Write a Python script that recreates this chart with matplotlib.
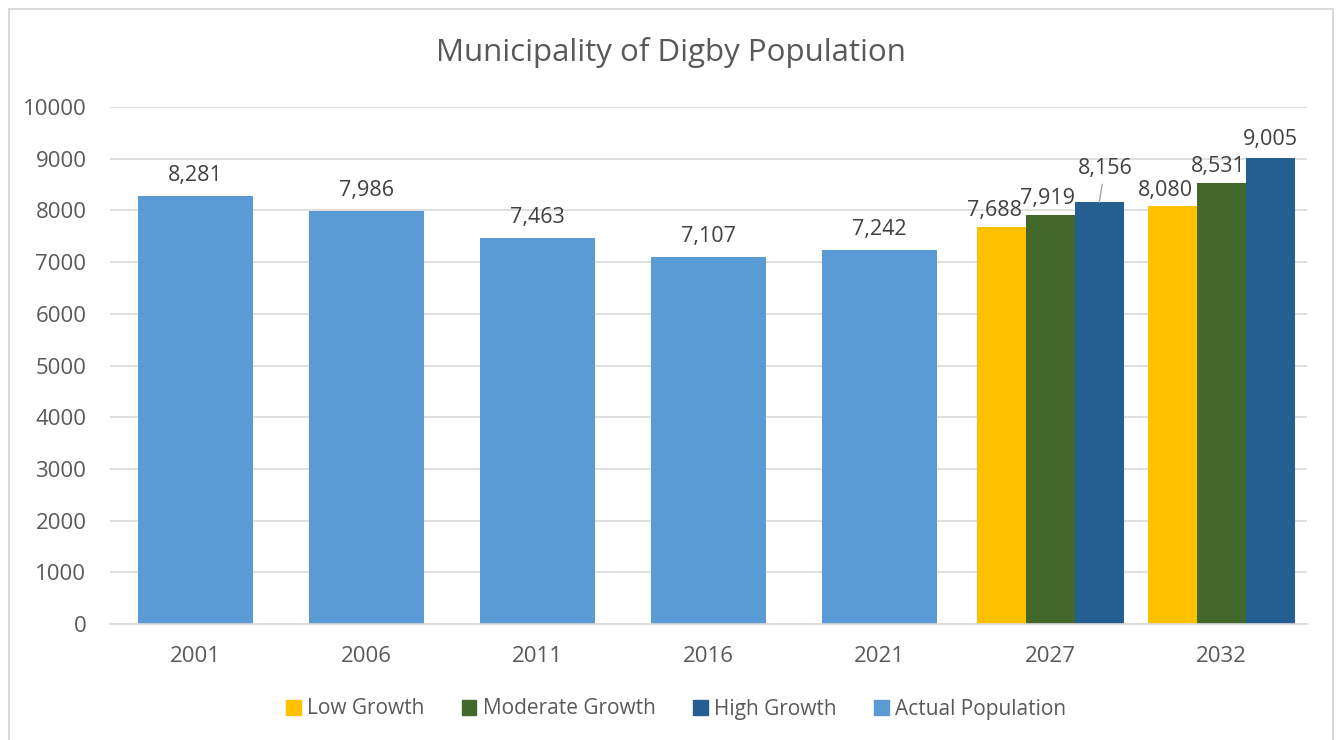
import matplotlib
matplotlib.use("Agg")
import matplotlib.pyplot as plt
from matplotlib.patches import Patch, Rectangle

years = ["2001", "2006", "2011", "2016", "2021", "2027", "2032"]
actual_years = ["2001", "2006", "2011", "2016", "2021"]
actual = [8281, 7986, 7463, 7107, 7242]
proj_years = ["2027", "2032"]
low = [7688, 8080]
moderate = [7919, 8531]
high = [8156, 9005]

c_actual = "#5B9BD5"
c_low = "#FFC000"
c_mod = "#43682B"
c_high = "#255E91"
txt = "#595959"
lbl = "#404040"

plt.rcParams["font.family"] = ["Open Sans", "DejaVu Sans"]

fig = plt.figure(figsize=(13.4, 7.4), dpi=100)
fig.patch.set_facecolor("white")
fig.add_artist(Rectangle((8.5 / 1340, -0.05), (1333 - 8.5) / 1340, 1.05 - 8.5 / 740,
                         transform=fig.transFigure, fill=False,
                         edgecolor="#D9D9D9", linewidth=1.5))

ax = fig.add_axes([110 / 1340, 1 - 624 / 740, (1307 - 110) / 1340, (624 - 107) / 740])
xpos = {y: i for i, y in enumerate(years)}

w_act = 0.667
ax.bar([xpos[y] for y in actual_years], actual, width=w_act, color=c_actual, zorder=2)

w = 0.285
px = [xpos[y] for y in proj_years]
ax.bar([p - w for p in px], low, width=w, color=c_low, zorder=2)
ax.bar(px, moderate, width=w, color=c_mod, zorder=2)
ax.bar([p + w for p in px], high, width=w, color=c_high, zorder=2)

fs_lbl = 15.5
for y, v in zip(actual_years, actual):
    ax.annotate(f"{v:,}", (xpos[y], v), xytext=(0, 7), textcoords="offset points",
                ha="center", va="bottom", fontsize=fs_lbl, color=lbl)

for i, p in enumerate(px):
    ax.annotate(f"{low[i]:,}", (p - w, low[i]), xytext=(-5, 4), textcoords="offset points",
                ha="center", va="bottom", fontsize=fs_lbl, color=lbl)
    ax.annotate(f"{moderate[i]:,}", (p, moderate[i]), xytext=(-2, 4), textcoords="offset points",
                ha="center", va="bottom", fontsize=fs_lbl, color=lbl)
    if i == 0:
        ax.annotate(f"{high[i]:,}", (p + w, high[i]), xytext=(4, 17), textcoords="offset points",
                    ha="center", va="bottom", fontsize=fs_lbl, color=lbl,
                    arrowprops=dict(arrowstyle="-", color="#A6A6A6", lw=1,
                                    shrinkA=2, shrinkB=0))
    else:
        ax.annotate(f"{high[i]:,}", (p + w, high[i]), xytext=(0, 6), textcoords="offset points",
                    ha="center", va="bottom", fontsize=fs_lbl, color=lbl)

ax.set_xlim(-0.5, len(years) - 0.5)
ax.set_ylim(0, 10000)
ax.set_yticks(range(0, 10001, 1000))
ax.set_xticks(range(len(years)))
ax.set_xticklabels(years)
ax.tick_params(axis="both", length=0, labelsize=16, colors=txt)
ax.tick_params(axis="x", pad=16)
ax.tick_params(axis="y", pad=17)
ax.grid(axis="y", color="#D9D9D9", linewidth=1.2, zorder=0)
for s in ["top", "right", "left"]:
    ax.spines[s].set_visible(False)
ax.spines["bottom"].set_color("#D9D9D9")
ax.spines["bottom"].set_linewidth(1.2)

fig.text(671 / 1340, 1 - 52 / 740, "Municipality of Digby Population",
         ha="center", va="center", fontsize=22.5, color=txt)

handles = [Patch(color=c_low), Patch(color=c_mod), Patch(color=c_high), Patch(color=c_actual)]
names = ["Low Growth", "Moderate Growth", "High Growth", "Actual Population"]
leg = fig.legend(handles, names, loc="center", bbox_to_anchor=(676 / 1340, 1 - 709 / 740),
                 ncol=4, frameon=False, fontsize=15, handlelength=0.7, handleheight=0.7,
                 handletextpad=0.3, columnspacing=1.8)
for t in leg.get_texts():
    t.set_color(txt)

fig.savefig("out.png", dpi=100)
